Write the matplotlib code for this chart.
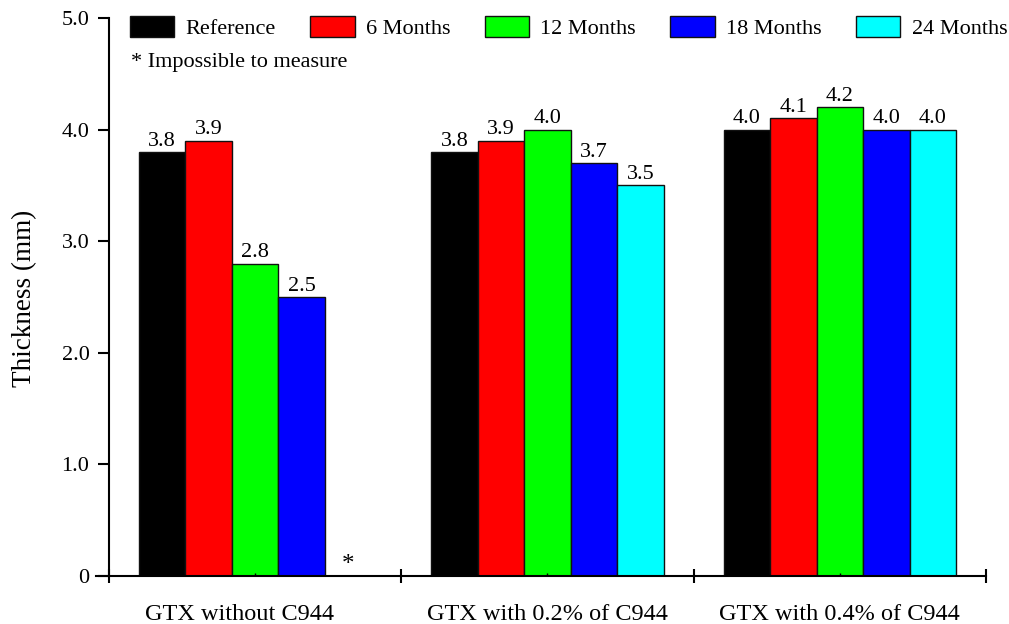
import numpy as np
import matplotlib
matplotlib.use("Agg")
import matplotlib.pyplot as plt
import matplotlib.transforms as mtransforms

plt.rcParams['font.family'] = ['Liberation Serif', 'DejaVu Serif']

groups = ['GTX without C944', 'GTX with 0.2% of C944', 'GTX with 0.4% of C944']
series = ['Reference', '6 Months', '12 Months', '18 Months', '24 Months']
colors = ['#000000', '#ff0000', '#00ff00', '#0000ff', '#00ffff']
values = {
    'Reference': [3.8, 3.8, 4.0],
    '6 Months': [3.9, 3.9, 4.1],
    '12 Months': [2.8, 4.0, 4.2],
    '18 Months': [2.5, 3.7, 4.0],
    '24 Months': [None, 3.5, 4.0],   # None = impossible to measure
}
yticks = [0, 1, 2, 3, 4, 5]
ytick_labels = ['0', '1.0', '2.0', '3.0', '4.0', '5.0']

W, H = 1009, 624
fig = plt.figure(figsize=(W / 100, H / 100), dpi=100)
ax = fig.add_axes([96 / W, 48 / H, (986 - 96) / W, (576 - 18) / H])

width = 0.159
start = 0.1026
for k, name in enumerate(series):
    labelled = False
    for g, v in enumerate(values[name]):
        xc = g + start + (k + 0.5) * width
        if v is None:
            ax.annotate('*', (xc, 0), xytext=(0, 0), textcoords='offset points',
                        ha='center', va='bottom', fontsize=18)
            continue
        ax.bar(xc, v, width, color=colors[k], edgecolor='#111111',
               linewidth=1.0, label=None if labelled else name)
        labelled = True
        ax.annotate('%.1f' % v, (xc, v), xytext=(0, 1), textcoords='offset points',
                    ha='center', va='bottom', fontsize=16)

ax.set_xlim(-0.044, 3.0)
ax.set_ylim(0, 5)
ax.spines['top'].set_visible(False)
ax.spines['right'].set_visible(False)
ax.spines['left'].set_position(('data', 0))
for s in ['left', 'bottom']:
    ax.spines[s].set_linewidth(1.5)

ax.set_yticks(yticks)
ax.set_yticklabels(ytick_labels)
ax.tick_params(axis='y', direction='out', length=8, width=1.5, pad=6, labelsize=16)

ax.set_xticks([0, 1, 2, 3])
ax.set_xticklabels([])
ax.tick_params(axis='x', which='major', direction='inout', length=10, width=1.5)
ax.set_xticks([0.5, 1.5, 2.5], minor=True)
ax.set_xticklabels(groups, minor=True)
ax.tick_params(axis='x', which='minor', direction='in', length=2, width=1, pad=20, labelsize=17.5)
# first group label sits a bit left of its tick in the original
lab0 = ax.get_xticklabels(minor=True)[0]
lab0.set_transform(lab0.get_transform() + mtransforms.ScaledTranslation(-16 / 100, 0, fig.dpi_scale_trans))

fig.text(25 / W, 1 - 298 / H, 'Thickness (mm)', rotation=90, ha='center', va='center', fontsize=19.5)

leg = fig.legend(loc='upper left', bbox_to_anchor=(130 / W, 1 - 16 / H), ncol=5, frameon=False,
                 fontsize=16, handlelength=2.0, handleheight=1.05, handletextpad=0.5,
                 columnspacing=1.55, borderpad=0, borderaxespad=0)
fig.text(131 / W, 1 - 63 / H, '* Impossible to measure', ha='left', va='center', fontsize=16)

fig.savefig('out.png', dpi=100)
